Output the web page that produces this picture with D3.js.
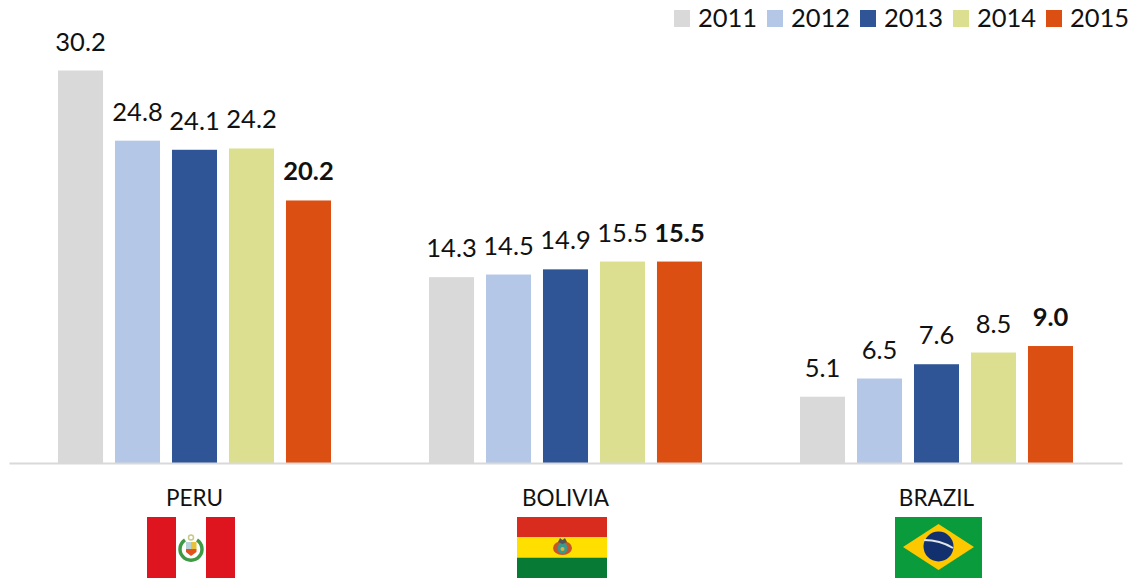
<!DOCTYPE html>
<html>
<head>
<meta charset="utf-8">
<script src="https://cdn.jsdelivr.net/npm/d3@7/dist/d3.min.js"></script>
<style>
html,body{margin:0;padding:0;background:#fff;overflow:hidden}
text{font-family:Lato,"Open Sans",sans-serif;fill:#111}
</style>
</head>
<body>
<svg id="chart" width="1142" height="579"></svg>
<script>
const countries = ["PERU", "BOLIVIA", "BRAZIL"];
const years = ["2011", "2012", "2013", "2014", "2015"];
const peru = [30.2, 24.8, 24.1, 24.2, 20.2];
const bolivia = [14.3, 14.5, 14.9, 15.5, 15.5];
const brazil = [5.1, 6.5, 7.6, 8.5, 9.0];
const yearColors = ["#d9d9d9", "#b4c7e7", "#2f5597", "#dbdf8f", "#dc4f13"];

const seriesByCountry = [peru, bolivia, brazil];
const svg = d3.select("#chart");
const baseline = 463;

const x0 = d3.scaleBand().domain(countries).range([9, 1122]);
const x1 = d3.scaleBand().domain(years).range([-136.5, 136.5]).paddingInner(0.21);
const y = d3.scaleLinear().domain([0, 30.2]).range([baseline, 70.5]);
const color = d3.scaleOrdinal().domain(years).range(yearColors);

// Bars and value labels, one group per country
const groups = svg.selectAll("g.country")
  .data(countries)
  .join("g")
  .attr("class", "country")
  .attr("transform", d => `translate(${x0(d) + x0.bandwidth() / 2},0)`);

groups.each(function (c, i) {
  const rows = years.map((yr, j) => ({ yr, v: seriesByCountry[i][j] }));
  const g = d3.select(this);
  g.selectAll("rect")
    .data(rows)
    .join("rect")
    .attr("x", d => x1(d.yr))
    .attr("width", x1.bandwidth())
    .attr("y", d => y(d.v))
    .attr("height", d => baseline - y(d.v))
    .attr("fill", d => color(d.yr));
  g.selectAll("text.value")
    .data(rows)
    .join("text")
    .attr("class", "value")
    .attr("x", d => x1(d.yr) + x1.bandwidth() / 2)
    .attr("y", d => y(d.v) - 20)
    .attr("text-anchor", "middle")
    .attr("font-size", 25.5)
    .attr("font-weight", d => d.yr === "2015" ? 700 : 400)
    .text(d => d.v.toFixed(1));
});

// Category axis: a plain grey line with the country names below it
const axis = d3.axisBottom(x0).tickSize(0).tickPadding(27);
const axisG = svg.append("g").attr("transform", `translate(0,${baseline})`).call(axis);
axisG.select(".domain").attr("stroke", "#d9d9d9").attr("stroke-width", 2);
axisG.selectAll("text")
  .attr("font-size", 22.5)
  .style("font-family", "Lato,'Open Sans',sans-serif")
  .style("fill", "#111");

// Legend along the top right
const legend = svg.selectAll("g.legend")
  .data(years)
  .join("g")
  .attr("class", "legend")
  .attr("transform", (d, i) => `translate(${674 + i * 93},10)`);
legend.append("rect").attr("width", 16).attr("height", 17).attr("fill", d => color(d));
legend.append("text").attr("x", 24).attr("y", 17).attr("font-size", 25.5).text(d => d);

// Flags under the country names
function flagPeru(g) {
  g.append("rect").attr("width", 88).attr("height", 61).attr("fill", "#fff");
  g.append("rect").attr("width", 29).attr("height", 61).attr("fill", "#de141e");
  g.append("rect").attr("x", 59).attr("width", 29).attr("height", 61).attr("fill", "#de141e");
  // laurel wreath, open at the top
  g.append("path").attr("d", "M38 23 A11 11 0 1 0 50 23").attr("fill", "none")
    .attr("stroke", "#3f9a44").attr("stroke-width", 3.5);
  // shield quarters
  g.append("rect").attr("x", 39).attr("y", 25).attr("width", 5).attr("height", 7).attr("fill", "#b9d2d8");
  g.append("rect").attr("x", 44).attr("y", 25).attr("width", 5.5).attr("height", 7).attr("fill", "#e9c23c");
  g.append("path").attr("d", "M39 32 H49.5 V35 L44 39 L39 35 Z").attr("fill", "#e0531c");
  g.append("circle").attr("cx", 44).attr("cy", 20.5).attr("r", 2.5).attr("fill", "none")
    .attr("stroke", "#c9c98a").attr("stroke-width", 1.5);
}
function flagBolivia(g) {
  const h = 61 / 3;
  g.append("rect").attr("width", 90).attr("height", h).attr("fill", "#d92c1e");
  g.append("rect").attr("y", h).attr("width", 90).attr("height", h).attr("fill", "#fedf00");
  g.append("rect").attr("y", 2 * h).attr("width", 90).attr("height", h).attr("fill", "#077a35");
  // coat of arms: banners either side of the oval, condor on top
  g.append("ellipse").attr("cx", 45.5).attr("cy", 31).attr("rx", 9.5).attr("ry", 7).attr("fill", "#c8552a");
  g.append("ellipse").attr("cx", 45.5).attr("cy", 31).attr("rx", 5).attr("ry", 5.5).attr("fill", "#3a9a8c");
  g.append("circle").attr("cx", 45.5).attr("cy", 32).attr("r", 2).attr("fill", "#d9b23c");
  g.append("path").attr("d", "M41 25 L43 21 L45.5 23 L48 21 L50 25 L45.5 27 Z").attr("fill", "#555");
}
function flagBrazil(g) {
  g.append("rect").attr("width", 87).attr("height", 61).attr("fill", "#0a9c3c");
  g.append("path").attr("d", "M8 30 L43.5 7 L79 30 L43.5 53 Z").attr("fill", "#fdc800");
  g.append("circle").attr("cx", 43.5).attr("cy", 29.5).attr("r", 15).attr("fill", "#13306e");
  g.append("path").attr("d", "M29 23 Q45 23 58 31").attr("fill", "none")
    .attr("stroke", "#dfe6ea").attr("stroke-width", 1.8);
}
const flags = [[147, flagPeru], [517, flagBolivia], [895, flagBrazil]];
flags.forEach(([fx, draw]) => draw(svg.append("g").attr("transform", `translate(${fx},517)`)));
</script>
</body>
</html>
